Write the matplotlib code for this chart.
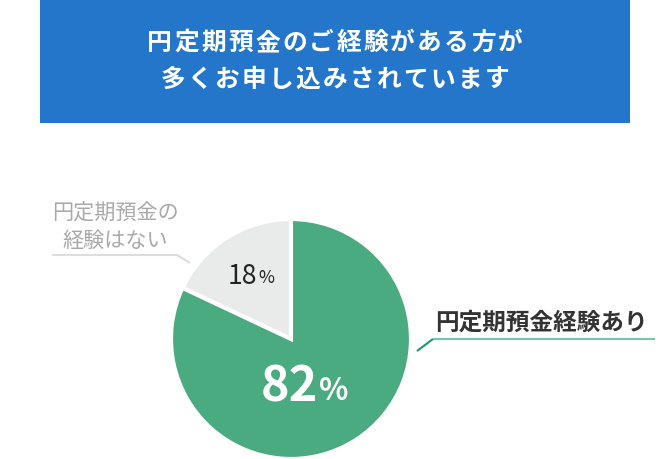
import matplotlib
matplotlib.use("Agg")
import matplotlib.pyplot as plt
from matplotlib.patches import Rectangle

plt.rcParams['font.family'] = ['Noto Sans CJK JP', 'DejaVu Sans']

title_lines = ["円定期預金のご経験がある方が", "多くお申し込みされています"]
categories = ["円定期預金の\n経験はない", "円定期預金経験あり"]
values = [18, 82]
colors = ["#e9eaea", "#4aaa80"]

W, H = 670, 459
fig = plt.figure(figsize=(W / 100, H / 100), dpi=100)
ax = fig.add_axes([0, 0, 1, 1])
ax.set_xlim(0, W)
ax.set_ylim(0, H)
ax.set_aspect('equal')
ax.axis('off')

def Y(py):
    return H - py

def spaced_text(s, xc, yc, adv, **kw):
    # draw string with letter spacing, centred at xc
    x0 = xc - adv * len(s) / 2
    for i, ch in enumerate(s):
        ax.text(x0 + (i + 0.5) * adv, yc, ch, ha="center", va="center", **kw)

# title box
ax.add_patch(Rectangle((40, Y(123)), 590, 123, facecolor="#2376c9", edgecolor="none"))
spaced_text(title_lines[0], 335, Y(43), 27.0, color="white", fontsize=17.8, fontweight="bold")
spaced_text(title_lines[1], 335, Y(80), 27.0, color="white", fontsize=17.8, fontweight="bold")

# pie
cx, cy, r = 291, Y(339), 120
ax.pie(values, colors=colors, startangle=90, counterclock=True, center=(cx, cy),
       radius=r, wedgeprops=dict(edgecolor="white", linewidth=3), frame=False)
ax.set_xlim(0, W)
ax.set_ylim(0, H)

# percentage labels
ax.text(257, Y(276), f"{values[0]}", fontsize=19, color="#222222", ha="right", va="center")
ax.text(258, Y(278), "%", fontsize=12.5, color="#222222", ha="left", va="center")
ax.text(318, Y(387), f"{values[1]}", fontsize=35, color="white", fontweight="bold",
        ha="right", va="center")
ax.text(319, Y(391), "%", fontsize=22, color="white", fontweight="bold", ha="left", va="center")

# grey label with leader
ax.text(115, Y(227), categories[0], fontsize=15.2, color="#a9a9a9", ha="center", va="center",
        linespacing=1.3)
ax.plot([52, 177, 190], [Y(255), Y(255), Y(263)], color="#dddddd", lw=1.5,
        solid_capstyle="butt")

# green label with leader
ax.text(541, Y(323), categories[1], fontsize=17, color="#333333", fontweight="bold",
        ha="center", va="center")
ax.plot([433, 655], [Y(339), Y(339)], color="#74c9a8", lw=1.5, solid_capstyle="butt")
ax.plot([417, 433], [Y(351), Y(339)], color="#1a9a6a", lw=1.5, solid_capstyle="butt")

fig.savefig("out.png", dpi=100)
